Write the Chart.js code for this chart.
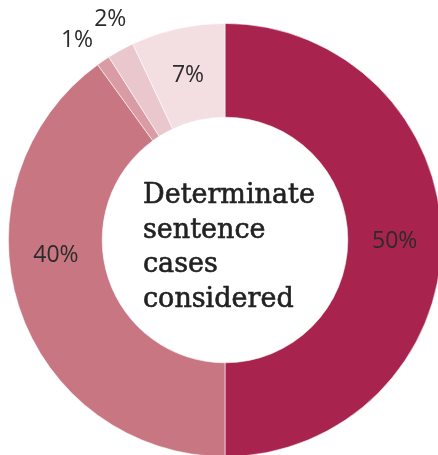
<!DOCTYPE html>
<html>
<head>
<meta charset="utf-8">
<script src="https://cdn.jsdelivr.net/npm/chart.js@4/dist/chart.umd.min.js"></script>
<style>
  html, body { margin: 0; padding: 0; background: #fff; overflow: hidden; }
  #wrap { position: absolute; left: 0; top: 0; width: 446px; height: 460px; }
</style>
</head>
<body>
<div id="wrap"><canvas id="myChart"></canvas></div>
<script>
// data
const categories = ["Share A", "Share B", "Share C", "Share D", "Share E"];
const values = [50, 40, 1, 2, 7];
const percentLabels = ["50%", "40%", "1%", "2%", "7%"];
const centerLines = ["Determinate", "sentence", "cases", "considered"];

const colors = ["#a9234f", "#c87682", "#d99ba4", "#e9c7cc", "#f3dee2"];

// labels: inside the ring for big slices, outside for the tiny ones
const labelPlugin = {
  id: "sliceLabels",
  afterDatasetsDraw(chart, args, opts) {
    const ctx = chart.ctx;
    const meta = chart.getDatasetMeta(0);
    ctx.save();
    ctx.font = "23px 'Open Sans'";
    ctx.fillStyle = "#2b2b2b";
    ctx.textAlign = "center";
    ctx.textBaseline = "middle";
    meta.data.forEach((arc, i) => {
      const p = arc.getProps(["x", "y", "startAngle", "endAngle", "innerRadius", "outerRadius"], true);
      const mid = (p.startAngle + p.endAngle) / 2 + opts.nudge[i] * Math.PI * 2;
      const r = opts.outside[i]
        ? p.outerRadius + 33
        : (p.innerRadius + p.outerRadius) / 2;
      ctx.fillText(percentLabels[i], p.x + Math.cos(mid) * r, p.y + Math.sin(mid) * r + 1);
    });

    // centre title
    const c = meta.data[0];
    ctx.font = "27px 'DejaVu Serif'";
    ctx.fillStyle = "#222";
    ctx.strokeStyle = "#222";
    ctx.lineWidth = 0.6;
    ctx.textAlign = "left";
    ctx.textBaseline = "alphabetic";
    const lineH = 34.7;
    const x0 = c.x - 82;
    const y0 = c.y - 37;
    centerLines.forEach((t, i) => {
      ctx.fillText(t, x0, y0 + i * lineH);
      ctx.strokeText(t, x0, y0 + i * lineH);
    });
    ctx.restore();
  }
};

const data = {
  labels: categories,
  datasets: [
    {
      data: values,
      backgroundColor: colors,
      borderColor: "rgba(255,255,255,0.7)",
      borderWidth: 0.8,
    },
  ],
};

const config = {
  type: "doughnut",
  data,
  options: {
    responsive: true,
    maintainAspectRatio: false,
    animation: false,
    cutout: "56.7%",
    layout: { padding: { left: 8, top: 23, right: 4, bottom: 3 } },
    plugins: {
      legend: { display: false },
      tooltip: { enabled: false },
      sliceLabels: {
        outside: [false, false, true, true, false],
        nudge: [0, 0.036, -0.006, 0.004, 0],
      },
    },
  },
  plugins: [labelPlugin],
};

const myChart = new Chart(document.getElementById("myChart"), config);
</script>
</body>
</html>
